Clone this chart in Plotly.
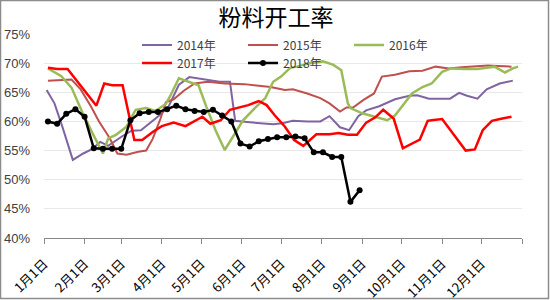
import plotly.graph_objects as go

# ---- data (dates in a common year; values in %) ----
d2014 = ["01-03","01-09","01-15","01-23","01-31","02-07","02-13","02-19","03-02","03-09","03-16","03-23","03-30","04-06","04-14","04-22","04-30","05-08","05-15","05-23","05-27","06-05","06-15","06-25","07-02","07-10","07-21","07-31","08-07","08-15","08-22","08-29","09-04","09-14","09-26","10-07","10-13","10-22","11-07","11-14","11-20","11-28","12-05","12-15","12-25"]
v2014 = [65.4,63.1,59.1,53.4,54.5,55.3,56.5,55.8,57.5,58.4,58.5,59.7,61.0,62.5,66.3,67.6,67.3,67.0,66.8,66.8,60.1,59.9,59.7,59.5,59.7,60.1,60.0,60.0,60.9,59.0,58.5,60.9,61.9,62.6,63.8,64.4,64.5,63.9,63.9,64.9,64.4,63.9,65.5,66.5,67.0]

d2015 = ["01-04","01-22","01-29","02-06","02-12","02-20","02-26","03-05","03-14","03-20","03-25","03-31","04-04","04-10","04-18","04-26","05-06","05-19","06-03","06-13","06-23","07-04","07-10","07-21","07-31","08-07","08-15","08-20","08-25","09-02","09-10","09-16","09-26","10-07","10-17","10-27","11-06","11-16","11-26","12-06","12-14","12-24"]
v2015 = [67.0,67.2,65.5,62.5,60.0,57.2,54.5,54.3,54.8,55.0,57.0,60.5,63.3,63.8,65.3,66.5,66.8,66.5,66.4,66.2,65.9,65.4,65.5,64.8,64.0,63.1,61.7,62.4,62.4,63.7,64.8,67.7,68.0,68.6,68.7,69.4,69.1,69.3,69.4,69.6,69.5,69.4]

d2016 = ["01-04","01-14","01-22","01-30","02-07","02-15","02-19","02-25","03-05","03-12","03-20","03-27","04-04","04-07","04-14","04-21","04-29","05-05","05-12","05-19","05-26","06-02","06-11","06-19","06-25","07-01","07-08","07-13","07-23","08-02","08-10","08-16","08-21","08-23","09-01","09-11","09-20","09-26","10-04","10-09","10-17","10-24","11-01","11-08","11-18","11-28","12-11","12-19","12-25","12-29"]
v2016 = [69.1,67.8,65.8,61.7,58.0,54.5,57.1,57.7,59.1,62.0,62.3,61.8,63.0,64.2,67.4,66.8,66.2,62.5,58.5,55.1,57.7,60.2,62.3,64.0,66.8,67.7,69.2,69.4,70.0,70.3,69.7,68.8,63.1,62.3,61.4,60.8,60.2,61.0,63.4,64.8,65.9,66.5,68.5,69.1,69.0,69.0,69.4,68.4,69.1,69.4]

d2017 = ["01-04","01-11","01-19","02-10","02-16","02-22","03-02","03-11","03-17","03-25","04-01","04-10","04-19","04-26","05-02","05-08","05-16","05-23","05-31","06-06","06-14","06-20","06-26","07-04","07-11","07-18","07-28","08-07","08-14","08-21","08-28","09-04","09-11","09-17","09-25","10-02","10-15","10-21","10-24","11-01","11-19","11-26","12-02","12-09","12-17","12-24"]
v2017 = [69.2,69.0,69.0,62.7,66.5,66.2,66.2,56.8,56.8,58.2,59.2,59.8,59.2,60.0,60.8,59.6,60.2,62.0,62.5,62.8,63.5,62.8,61.1,59.1,56.8,55.8,57.8,57.8,58.0,57.7,57.7,59.8,60.7,62.0,60.5,55.4,56.9,60.1,60.2,60.4,55.0,55.2,58.5,60.1,60.5,60.8]

d2018 = ["01-04","01-11","01-18","01-25","02-01","02-08","02-15","02-22","03-01","03-08","03-15","03-22","03-29","04-05","04-12","04-19","04-26","05-03","05-10","05-17","05-24","05-31","06-07","06-14","06-21","06-28","07-05","07-12","07-19","07-26","08-02","08-09","08-16","08-23","08-30"]
v2018 = [60.0,59.6,61.3,62.1,60.8,55.4,55.3,55.3,55.3,60.2,61.4,61.6,61.6,62.1,62.7,62.1,61.8,61.6,62.0,61.0,60.0,56.2,55.7,56.6,57.0,57.3,57.3,57.4,57.1,54.7,54.7,53.9,53.9,46.2,48.2]

month_ticks = ["2018-%02d-01" % m for m in range(1, 13)] + ["2019-01-01"]
month_labels = ["%d月1日" % m for m in range(1, 13)] + [""]

series = [
    ("2014年", d2014, v2014, "#8064A2", 2, "legend"),
    ("2015年", d2015, v2015, "#C0504D", 2, "legend"),
    ("2016年", d2016, v2016, "#9BBB59", 2.5, "legend"),
    ("2017年", d2017, v2017, "#FF0000", 2.5, "legend2"),
]

FONT = "Noto Sans CJK SC"
fig = go.Figure()
for name, d, v, col, w, lg in series:
    fig.add_trace(go.Scatter(
        x=["2018-" + s for s in d], y=v, name=name, mode="lines",
        line=dict(color=col, width=w), legend=lg))
fig.add_trace(go.Scatter(
    x=["2018-" + s for s in d2018], y=v2018, name="2018年", mode="lines+markers",
    line=dict(color="#000000", width=2.5), marker=dict(size=6, color="#000000"),
    legend="legend2"))

W, H = 550, 300
ml, mr, mt, mb = 44, 28, 34, 62
pw, ph = W - ml - mr, H - mt - mb

legend_common = dict(orientation="h", xanchor="left", yanchor="middle",
                     entrywidth=61, entrywidthmode="pixels", bgcolor="rgba(0,0,0,0)",
                     font=dict(family=FONT, size=12, color="#404040"), itemwidth=30, tracegroupgap=0)

fig.update_layout(
    width=W, height=H,
    margin=dict(l=ml, r=mr, t=mt, b=mb, autoexpand=False),
    paper_bgcolor="white", plot_bgcolor="white",
    font=dict(family=FONT, size=12, color="#404040"),
    title=dict(text="粉料开工率", x=276 / W, xanchor="center", y=1 - 18 / H, yanchor="middle",
               font=dict(family=FONT, size=23, color="#000000"), automargin=False),
    legend=dict(x=(137 - ml) / pw, y=(238 - 45) / ph, **legend_common),
    legend2=dict(x=(137 - ml) / pw, y=(238 - 63) / ph, **legend_common),
    showlegend=True,
    xaxis=dict(type="date", range=["2018-01-01", "2019-01-01"], tickmode="array",
               tickvals=month_ticks, ticktext=month_labels, tickangle=-45, automargin=False,
               ticks="outside", ticklen=5, tickcolor="#888888", showgrid=False,
               showline=True, linecolor="#888888", linewidth=1, ticklabelstandoff=7,
               tickfont=dict(family=FONT, size=13, color="#000000")),
    yaxis=dict(range=[40, 75], dtick=5, ticksuffix="%", showgrid=True, gridcolor="#E8E8E8",
               zeroline=False, showline=False, ticks="", ticklabelstandoff=13, automargin=False,
               tickfont=dict(family="Liberation Sans", size=13, color="#404040")),
    shapes=[dict(type="rect", xref="paper", yref="paper",
                 x0=(0.5 - ml) / pw, x1=(W - 1.5 - ml) / pw,
                 y0=(H - mb - (H - 1.5)) / ph, y1=(H - mb - 0.5) / ph,
                 line=dict(color="#8C8C8C", width=1.5), fillcolor="rgba(0,0,0,0)", layer="below")],
)

fig.write_html("out.html")
